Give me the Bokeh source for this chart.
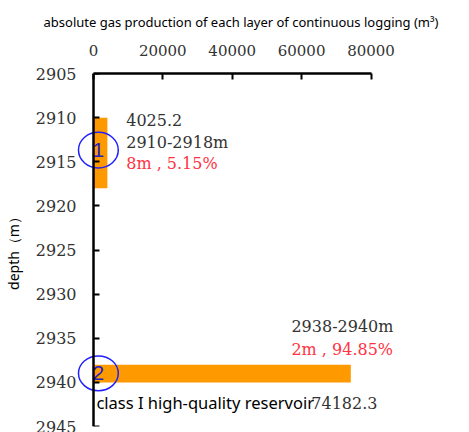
from bokeh.plotting import figure
from bokeh.models import Range1d, ColumnDataSource, FixedTicker, LinearAxis
from bokeh.core.properties import value
from bokeh.embed import file_html
from bokeh.resources import INLINE

# ---- data ----
layers = ["2910-2918m", "2938-2940m"]
top_depth = [2910, 2938]
bottom_depth = [2918, 2940]
gas = [4025.2, 74182.3]
gas_labels = ["4025.2", "74182.3"]
thickness_share = ["8m , 5.15%", "2m , 94.85%"]
circle_ids = ["1", "2"]
x_ticks = [0, 20000, 40000, 60000, 80000]
y_ticks = [2905, 2910, 2915, 2920, 2925, 2930, 2935, 2940, 2945]
reservoir_note = "class I high-quality reservoir"
title_text = "absolute gas production of each layer of continuous logging (m³)"
y_title = "depth（m）"

# ---- layout ----
W, H = 469, 432
FRAME_LEFT, FRAME_TOP, BOTTOM_PAD = 74, 71, 6
PX = 80000 / 279.0                     # data units per pixel (x)
x0 = -(91 - FRAME_LEFT) * PX
x1 = x0 + (W - FRAME_LEFT) * PX
TICK_FONT = "'DejaVu Serif', serif"

p = figure(width=W, height=H, output_backend="svg", toolbar_location=None,
           x_range=Range1d(x0, x1), y_range=Range1d(2945, 2905),
           x_axis_location="above",
           min_border_left=FRAME_LEFT, min_border_right=0,
           min_border_top=FRAME_TOP, min_border_bottom=BOTTOM_PAD)
p.outline_line_color = None
p.grid.visible = False
p.background_fill_color = "white"

p.title.text = title_text
p.title.text_font = "Noto Sans"
p.title.text_font_size = "13px"
p.title.text_font_style = "normal"
p.title.text_color = "black"
p.title.align = "left"
p.title.offset = 41 - FRAME_LEFT
p.title.standoff = 21

# top x axis
xa = p.xaxis[0]
xa.bounds = (0, 80000)
xa.ticker = FixedTicker(ticks=x_ticks)
xa.major_label_text_font_size = "15px"
xa.major_label_standoff = 18

# y axis line + ticks at x = 0
ya = p.yaxis[0]
ya.bounds = (2905, 2945)
ya.ticker = FixedTicker(ticks=y_ticks)
ya.fixed_location = 0

for ax in (xa, ya):
    ax.axis_line_color = "black"
    ax.axis_line_width = 2.5
    ax.major_tick_line_color = "black"
    ax.major_tick_line_width = 2
    ax.major_tick_in = 6
    ax.major_tick_out = 0
    ax.minor_tick_line_color = None
    ax.major_label_text_font = TICK_FONT
    ax.major_label_text_color = "#333333" if ax is xa else None

# y tick labels + depth title
yl = LinearAxis(ticker=FixedTicker(ticks=y_ticks), axis_line_color=None,
                major_tick_line_color=None, minor_tick_line_color=None,
                major_tick_in=0, major_tick_out=0, major_label_standoff=0,
                major_label_text_font=TICK_FONT,
                major_label_text_font_size="16px",
                major_label_text_color="#333333",
                axis_label=y_title, axis_label_text_font="Noto Sans",
                axis_label_text_font_size="14px",
                axis_label_text_font_style="normal",
                axis_label_text_color="black", axis_label_standoff=10)
p.add_layout(yl, "left")

# bars
src = ColumnDataSource(dict(
    y=[(a + b) / 2 for a, b in zip(top_depth, bottom_depth)],
    h=[b - a for a, b in zip(top_depth, bottom_depth)],
    right=gas))
p.hbar(y="y", height="h", left=0, right="right", source=src,
       fill_color="#FF9900", line_color=None)

# circles with ids
circ_x = [1434, 1434]
circ_y = [2913.68, 2938.97]
circ_h = [4.06, 3.94]
p.ellipse(x=circ_x, y=circ_y, width=40 * PX, height=circ_h,
          fill_color=None, line_color="#2020ff", line_width=1.5)
p.text(x=circ_x, y=circ_y, text=circle_ids, text_align="center",
       text_baseline="middle", text_font=value("Liberation Sans"),
       text_font_size="21px", text_color="#2020cc")

# annotations near the bars
serif = value("DejaVu Serif")
p.text(x=[9462], y=[2910.3], text=[gas_labels[0]], text_font=serif,
       text_font_size="16px", text_color="#333333", text_baseline="middle")
p.text(x=[9462, 57061], y=[2912.8, 2933.7], text=layers, text_font=serif,
       text_font_size="16px", text_color="#333333", text_baseline="middle")
p.text(x=[9462, 57061], y=[2915.25, 2936.27], text=thickness_share,
       text_font=serif, text_font_size="16px", text_color="#FF3344",
       text_baseline="middle")
p.text(x=[860], y=[2942.3], text=[reservoir_note], text_font=value("Noto Sans"),
       text_font_size="16.5px", text_color="black", text_baseline="middle")
p.text(x=[62796], y=[2942.3], text=[gas_labels[1]], text_font=serif,
       text_font_size="16px", text_color="#333333", text_baseline="middle")

open("out.html", "w").write(file_html(p, INLINE))
